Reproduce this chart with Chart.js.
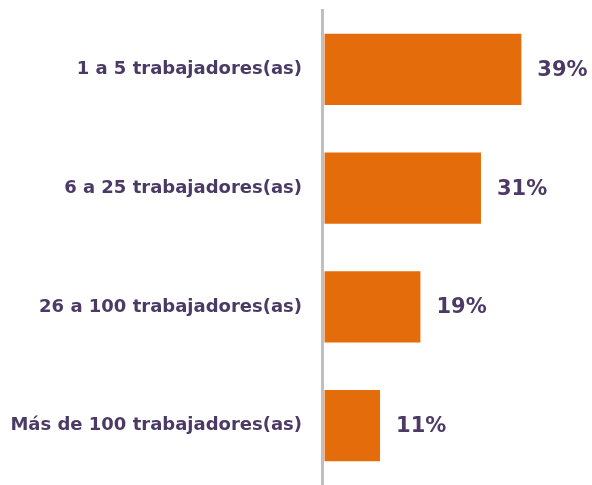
<!DOCTYPE html>
<html>
<head>
<meta charset="utf-8">
<script src="https://cdn.jsdelivr.net/npm/chart.js@4"></script>
<style>
  html, body { margin: 0; padding: 0; background: #fff; }
  #wrap { width: 592px; height: 485px; }
</style>
</head>
<body>
<div id="wrap"><canvas id="chart"></canvas></div>
<script>
// data
const categories = ['1 a 5 trabajadores(as)', '6 a 25 trabajadores(as)', '26 a 100 trabajadores(as)', 'Más de 100 trabajadores(as)'];
const shares = [39, 31, 19, 11];

const barColor = '#E46C0A';
const textColor = '#4B3A66';

// percent labels at the end of each bar
const valueLabels = {
    id: 'valueLabels',
    afterDatasetsDraw(chart) {
        const ctx = chart.ctx;
        const meta = chart.getDatasetMeta(0);
        ctx.save();
        ctx.font = 'bold 21px "DejaVu Sans"';
        ctx.fillStyle = textColor;
        ctx.textBaseline = 'middle';
        meta.data.forEach(function (bar, i) {
            ctx.fillText(shares[i] + '%', bar.x + 16, bar.y + 1);
        });
        ctx.restore();
    }
};

new Chart(document.getElementById('chart'), {
    type: 'bar',
    data: {
        labels: categories,
        datasets: [{
            data: shares,
            backgroundColor: barColor,
            categoryPercentage: 1,
            barPercentage: 0.6
        }]
    },
    options: {
        indexAxis: 'y',
        responsive: true,
        maintainAspectRatio: false,
        animation: false,
        layout: { padding: { top: 10, bottom: 0, left: 0, right: 0 } },
        plugins: {
            legend: { display: false },
            tooltip: { enabled: false }
        },
        scales: {
            x: {
                display: false,
                min: -0.5,
                max: 53
            },
            y: {
                afterFit: function (scale) {
                    scale.width = 322;
                    scale.paddingTop = 0;
                    scale.paddingBottom = 0;
                },
                grid: { display: false, drawTicks: false },
                border: { display: true, color: '#BFBFBF', width: 3 },
                ticks: {
                    color: textColor,
                    padding: 20,
                    font: { family: 'DejaVu Sans', weight: 'bold', size: 18 }
                }
            }
        }
    },
    plugins: [valueLabels]
});
</script>
</body>
</html>
